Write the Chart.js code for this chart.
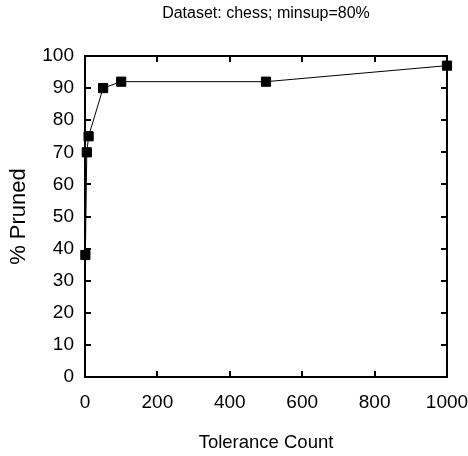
<!DOCTYPE html>
<html>
<head>
<meta charset="utf-8">
<script src="https://cdn.jsdelivr.net/npm/chart.js@4/dist/chart.umd.min.js"></script>
<style>
  html, body { margin: 0; padding: 0; background: #fff; }
  #wrap { width: 468px; height: 456px; }
</style>
</head>
<body>
<div id="wrap"><canvas id="chart" width="468" height="456"></canvas></div>
<script>
// data
const tolerance = [1, 5, 10, 50, 100, 500, 1000];
const pruned = [38, 70, 75, 90, 92, 92, 97];
const xTicks = [0, 200, 400, 600, 800, 1000];
const yTicks = [0, 10, 20, 30, 40, 50, 60, 70, 80, 90, 100];

const font = 'Liberation Sans, Arial, sans-serif';

// gnuplot style: ticks pointing inward, mirrored on all four sides, plus box border
const inTicks = {
    id: 'inTicks',
    afterDraw(c) {
        const ctx = c.ctx, a = c.chartArea;
        const xs = c.scales.x, ys = c.scales.y;
        const len = 6;
        ctx.save();
        ctx.strokeStyle = '#000';
        ctx.lineWidth = 2;
        ctx.beginPath();
        xTicks.forEach(v => {
            const px = Math.round(xs.getPixelForValue(v));
            if (px <= a.left + 1 || px >= a.right - 1) return;
            ctx.moveTo(px, a.bottom); ctx.lineTo(px, a.bottom - len);
            ctx.moveTo(px, a.top); ctx.lineTo(px, a.top + len);
        });
        yTicks.forEach(v => {
            const py = Math.round(ys.getPixelForValue(v));
            if (py <= a.top + 1 || py >= a.bottom - 1) return;
            ctx.moveTo(a.left, py); ctx.lineTo(a.left + len, py);
            ctx.moveTo(a.right, py); ctx.lineTo(a.right - len, py);
        });
        ctx.stroke();
        ctx.strokeRect(a.left, a.top, a.right - a.left, a.bottom - a.top);
        ctx.restore();
    }
};

new Chart(document.getElementById('chart'), {
    type: 'line',
    data: {
        datasets: [{
            data: tolerance.map((t, i) => ({ x: t, y: pruned[i] })),
            borderColor: '#000',
            borderWidth: 1,
            backgroundColor: '#000',
            pointStyle: 'rect',
            pointRadius: 6.5,
            pointHoverRadius: 6.5,
            tension: 0,
            clip: false
        }]
    },
    options: {
        responsive: false,
        animation: false,
        layout: { padding: 0 },
        plugins: {
            legend: { display: false },
            tooltip: { enabled: false }
        },
        scales: {
            x: {
                type: 'linear',
                min: 0, max: 1000,
                afterBuildTicks: s => { s.ticks = xTicks.map(v => ({ value: v })); },
                afterFit: s => { s.height = 79; s.paddingRight = 21; s.paddingLeft = 0; },
                grid: { display: false, drawTicks: false },
                border: { display: false },
                ticks: { color: '#000', font: { family: font, size: 19 }, padding: 14, maxRotation: 0,
                         callback: v => String(v) },
                title: {
                    display: true, text: 'Tolerance Count', color: '#000',
                    font: { family: font, size: 18.5 }, padding: { top: 0, bottom: 2 }
                }
            },
            // top axis only carries the chart title, centred over the plot box
            top: {
                type: 'linear',
                position: 'top',
                display: true,
                min: 0, max: 1000,
                afterFit: s => { s.height = 56; s.paddingRight = 0; s.paddingLeft = 0; },
                grid: { display: false, drawTicks: false },
                border: { display: false },
                ticks: { display: false },
                title: {
                    display: true, text: 'Dataset: chess; minsup=80%', color: '#000',
                    font: { family: font, size: 16 }, padding: { top: 4, bottom: 0 }
                }
            },
            y: {
                min: 0, max: 100,
                afterBuildTicks: s => { s.ticks = yTicks.map(v => ({ value: v })); },
                afterFit: s => { s.width = 85; },
                grid: { display: false, drawTicks: false },
                border: { display: false },
                ticks: { color: '#000', font: { family: font, size: 19 }, padding: 11 },
                title: {
                    display: true, text: '% Pruned', color: '#000',
                    font: { family: font, size: 22 }, padding: { top: 6, bottom: 0 }
                }
            }
        }
    },
    plugins: [inTicks]
});
</script>
</body>
</html>
